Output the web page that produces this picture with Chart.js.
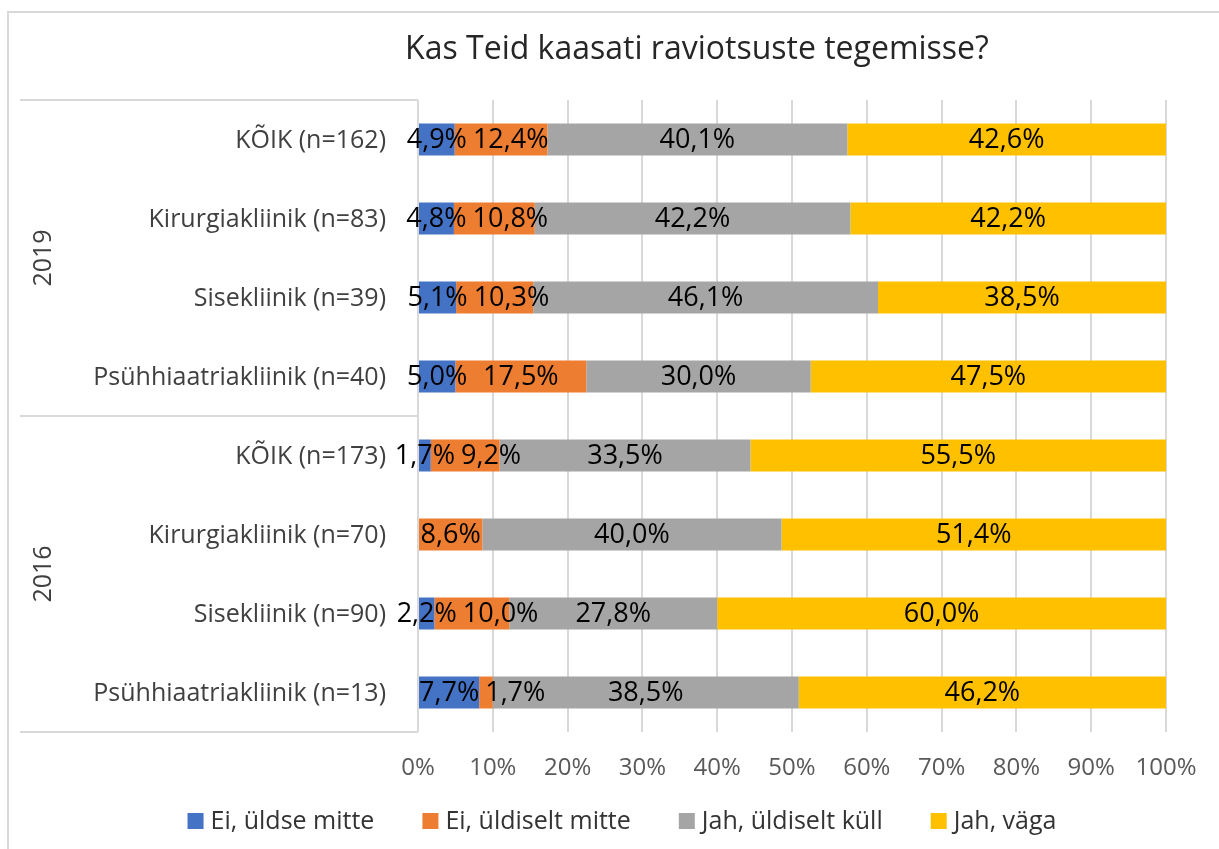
<!DOCTYPE html>
<html>
<head>
<meta charset="utf-8">
<script src="https://cdn.jsdelivr.net/npm/chart.js@4/dist/chart.umd.min.js"></script>
<style>
  html, body { margin: 0; padding: 0; background: #ffffff; }
  #wrap { width: 1219px; height: 849px; position: relative; }
</style>
</head>
<body>
<div id="wrap"><canvas id="c" width="1219" height="849"></canvas></div>
<script>
// ---- Data ----
const title = "Kas Teid kaasati raviotsuste tegemisse?";
const categories = [
  "KÕIK (n=162)", "Kirurgiakliinik (n=83)", "Sisekliinik (n=39)", "Psühhiaatriakliinik (n=40)",
  "KÕIK (n=173)", "Kirurgiakliinik (n=70)", "Sisekliinik (n=90)", "Psühhiaatriakliinik (n=13)"
];
const groupLabels = ["2019", "2016"];
const groupSizes = [4, 4];
const seriesNames = ["Ei, üldse mitte", "Ei, üldiselt mitte", "Jah, üldiselt küll", "Jah, väga"];
const eiUldseMitte    = [4.9, 4.8, 5.1, 5.0, 1.7, 0, 2.2, 7.7];
const eiUldiseltMitte = [12.4, 10.8, 10.3, 17.5, 9.2, 8.6, 10.0, 1.7];
const jahUldiseltKull = [40.1, 42.2, 46.1, 30.0, 33.5, 40.0, 27.8, 38.5];
const jahVaga         = [42.6, 42.2, 38.5, 47.5, 55.5, 51.4, 60.0, 46.2];
const xTicks = [0, 10, 20, 30, 40, 50, 60, 70, 80, 90, 100];

// ---- Styles ----
const FONT = "'Open Sans', sans-serif";
const colors = ["#4472C4", "#ED7D31", "#A5A5A5", "#FFC000"];
const lineColor = "#d9d9d9";

const raw = [eiUldseMitte, eiUldiseltMitte, jahUldiseltKull, jahVaga];
// 100% stacked: each row normalised to its own total (as the spreadsheet chart does)
const totals = categories.map((_, i) => raw.reduce((s, arr) => s + arr[i], 0));
const datasets = raw.map((arr, k) => ({
  label: seriesNames[k],
  data: arr.map((v, i) => v / totals[i] * 100),
  rawValues: arr,
  backgroundColor: colors[k],
  borderWidth: 0,
  categoryPercentage: 1.0,
  barPercentage: 0.405
}));

function fmt(v) { return v.toFixed(1).replace('.', ',') + '%'; }

function groupBoundaries(area) {
  const band = (area.bottom - area.top) / categories.length;
  let idx = 0;
  const b = [area.top];
  groupSizes.forEach(n => { idx += n; b.push(area.top + idx * band); });
  return b;
}

const decorPlugin = {
  id: 'decor',
  beforeDraw(chart) {
    const ctx = chart.ctx;
    ctx.save();
    ctx.fillStyle = '#ffffff';
    ctx.fillRect(0, 0, chart.width, chart.height);
    ctx.strokeStyle = lineColor;
    ctx.lineWidth = 2;
    ctx.beginPath();
    ctx.moveTo(8, chart.height); ctx.lineTo(8, 12); ctx.lineTo(chart.width, 12);
    ctx.stroke();
    ctx.restore();
  },
  beforeDatasetsDraw(chart) {
    const ctx = chart.ctx;
    const area = chart.chartArea;
    ctx.save();
    ctx.strokeStyle = lineColor;
    ctx.lineWidth = 2;
    const boundaries = groupBoundaries(area);
    ctx.beginPath();
    boundaries.forEach(y => { ctx.moveTo(20, y); ctx.lineTo(area.left, y); });
    ctx.moveTo(area.left, area.top); ctx.lineTo(area.left, area.bottom);
    ctx.stroke();
    ctx.restore();
  },
  afterDatasetsDraw(chart) {
    const ctx = chart.ctx;
    const area = chart.chartArea;
    const yS = chart.scales.y;
    ctx.save();
    // title
    ctx.fillStyle = '#262626';
    ctx.font = "32px " + FONT;
    ctx.textAlign = 'center';
    ctx.textBaseline = 'middle';
    ctx.fillText(title, 697, 50);

    // category labels
    ctx.fillStyle = '#404040';
    ctx.font = "25px " + FONT;
    ctx.textAlign = 'right';
    ctx.textBaseline = 'middle';
    categories.forEach((c, i) => {
      ctx.fillText(c, 386, yS.getPixelForValue(i) + 1);
    });

    // group labels (rotated)
    const boundaries = groupBoundaries(area);
    groupLabels.forEach((g, k) => {
      const yc = (boundaries[k] + boundaries[k + 1]) / 2;
      ctx.save();
      ctx.translate(44, yc);
      ctx.rotate(-Math.PI / 2);
      ctx.textAlign = 'center';
      ctx.textBaseline = 'middle';
      ctx.fillText(g, 0, 0);
      ctx.restore();
    });

    // legend
    ctx.font = "25px " + FONT;
    ctx.textAlign = 'left';
    ctx.textBaseline = 'middle';
    const box = 16, tgap = 7, igap = 48;
    const widths = seriesNames.map(s => box + tgap + ctx.measureText(s).width);
    const total = widths.reduce((a, b) => a + b, 0) + igap * (seriesNames.length - 1);
    let x = 622 - total / 2;
    const ly = 821;
    seriesNames.forEach((s, k) => {
      ctx.fillStyle = colors[k];
      ctx.fillRect(x, ly - box / 2, box, box);
      ctx.fillStyle = '#333333';
      ctx.fillText(s, x + box + tgap, ly + 1);
      x += widths[k] + igap;
    });

    // data labels
    ctx.font = "27px " + FONT;
    ctx.fillStyle = '#000000';
    ctx.textAlign = 'center';
    ctx.textBaseline = 'middle';
    const pad = 6;
    categories.forEach((_, i) => {
      const items = [];
      chart.data.datasets.forEach((ds, k) => {
        const v = ds.rawValues[i];
        if (!v) return;
        const el = chart.getDatasetMeta(k).data[i];
        const p = el.getProps(['x', 'base', 'y'], true);
        const text = fmt(v);
        const w = ctx.measureText(text).width;
        items.push({ text, w, cx: (p.x + p.base) / 2, y: p.y });
      });
      let prevRight = -Infinity;
      items.forEach(it => {
        let left = it.cx - it.w / 2;
        if (left < prevRight + pad) left = prevRight + pad;
        ctx.fillText(it.text, left + it.w / 2, it.y + 1);
        prevRight = left + it.w;
      });
    });
    ctx.restore();
  }
};

new Chart(document.getElementById('c'), {
  type: 'bar',
  data: { labels: categories, datasets },
  options: {
    indexAxis: 'y',
    responsive: false,
    devicePixelRatio: 1,
    animation: false,
    layout: { padding: { left: 418, right: 53, top: 100, bottom: 67 } },
    plugins: { legend: { display: false }, title: { display: false }, tooltip: { enabled: false } },
    scales: {
      x: {
        stacked: true,
        min: 0, max: 100,
        afterBuildTicks(scale) { scale.ticks = xTicks.map(v => ({ value: v })); },
        afterFit(scale) { scale.height = 50; },
        ticks: {
          color: '#595959',
          font: { family: FONT, size: 24 },
          padding: 22,
          callback: v => v + '%'
        },
        grid: { color: lineColor, lineWidth: 2, drawTicks: false },
        border: { display: false }
      },
      y: {
        stacked: true,
        display: false,
        offset: true
      }
    }
  },
  plugins: [decorPlugin]
});
</script>
</body>
</html>
